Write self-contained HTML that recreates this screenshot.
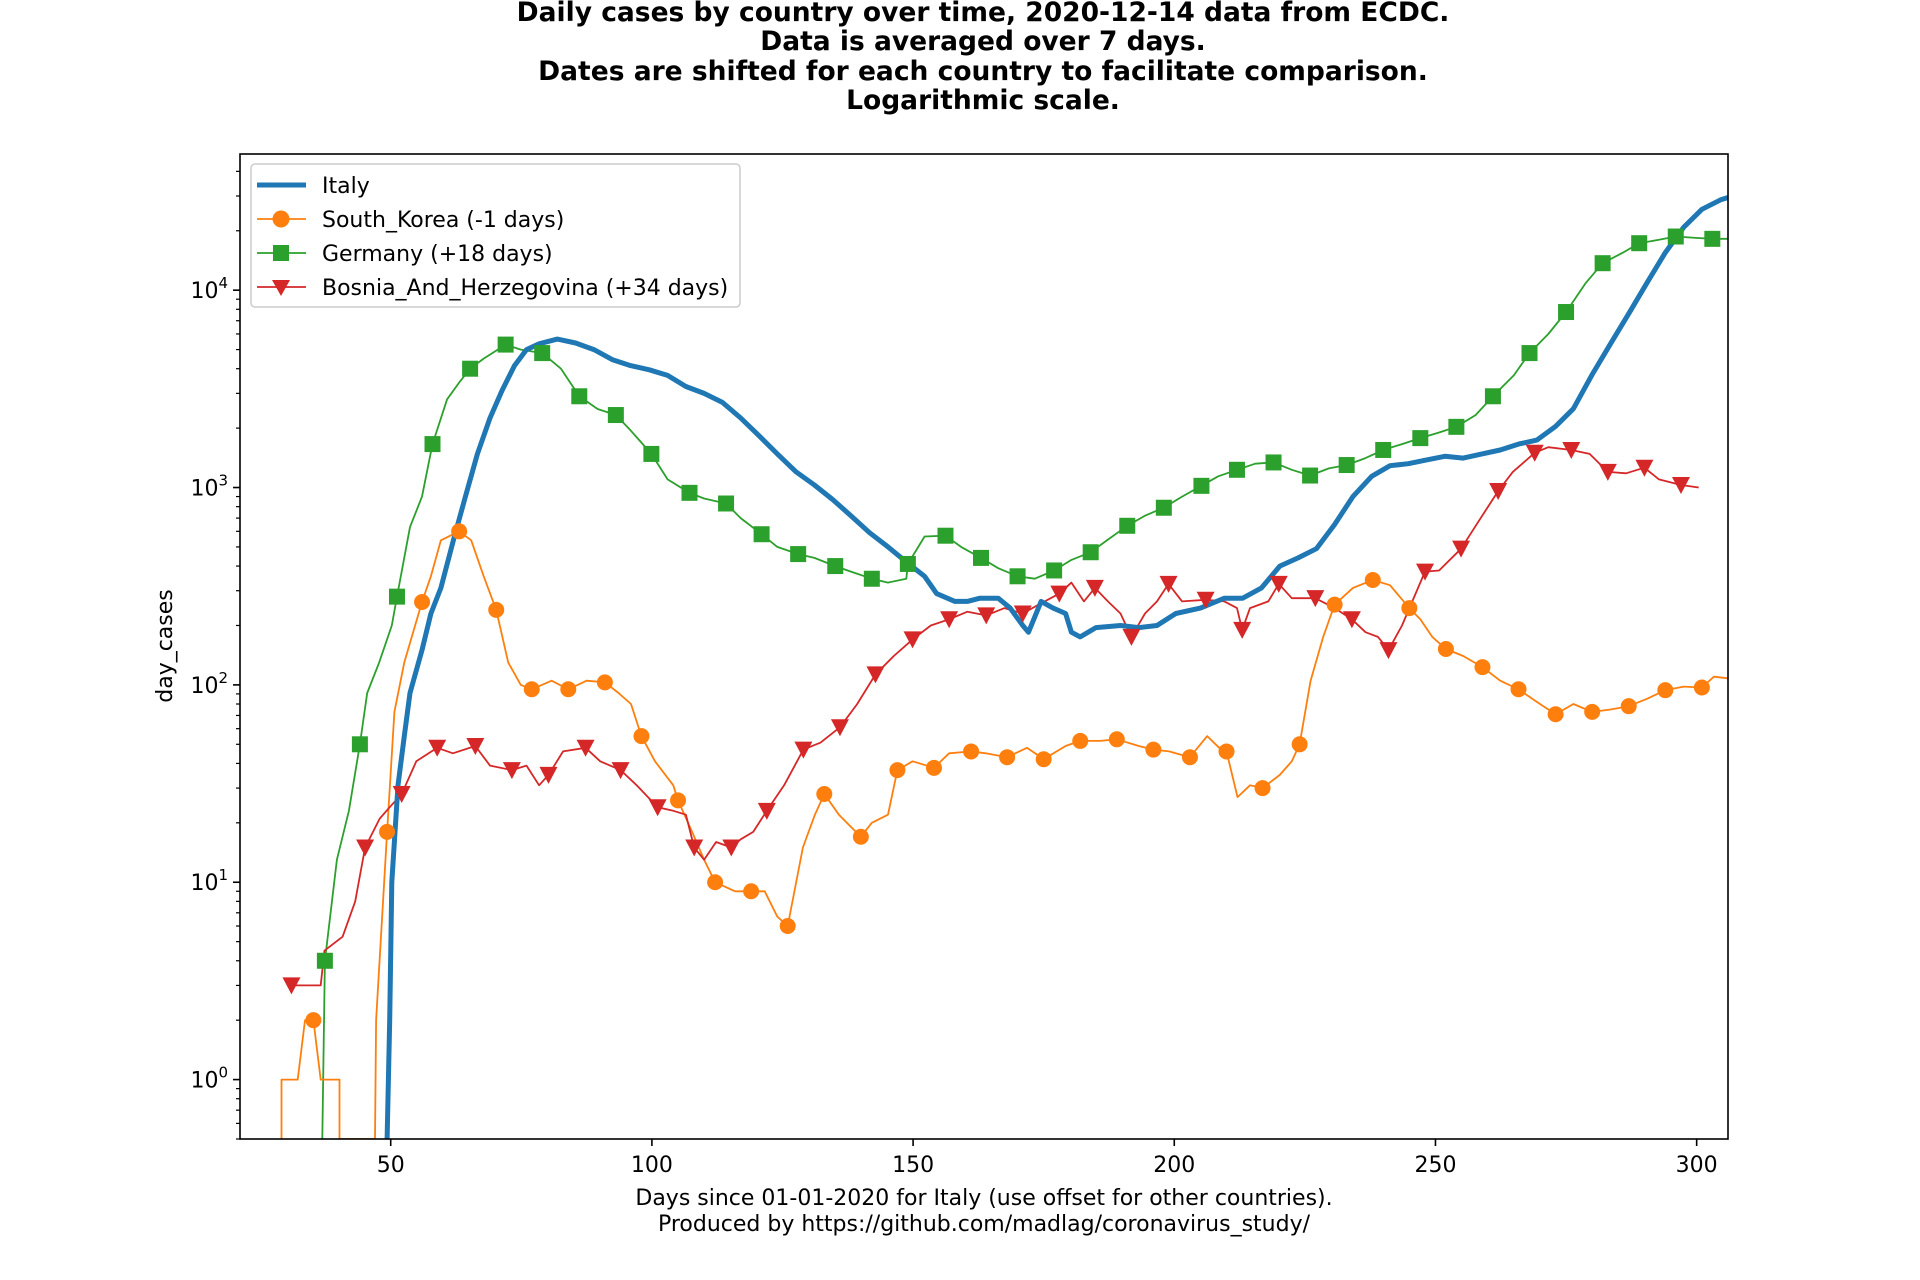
<!DOCTYPE html>
<html><head><meta charset="utf-8"><style>
html,body{margin:0;padding:0;background:#fff;}
svg{display:block;font-family:"DejaVu Sans","Liberation Sans",sans-serif;}
</style></head><body>
<svg id="chart" width="1920" height="1280" viewBox="0 0 1920 1280" xmlns="http://www.w3.org/2000/svg">
<g font-weight="bold" font-size="26.5" text-anchor="middle" fill="#000">
<text x="983" y="21">Daily cases by country over time, 2020-12-14 data from ECDC.</text>
<text x="983" y="50">Data is averaged over 7 days.</text>
<text x="983" y="80">Dates are shifted for each country to facilitate comparison.</text>
<text x="983" y="109">Logarithmic scale.</text>
</g>
<g id="plot"></g>
<g id="axes"></g>
<g font-size="22" text-anchor="middle">
<text x="984" y="1205">Days since 01-01-2020 for Italy (use offset for other countries).</text>
<text x="984" y="1231">Produced by https://github.com/madlag/coronavirus_study/</text>
</g>
<text font-size="22" text-anchor="middle" transform="translate(172,646) rotate(-90)">day_cases</text>
<g>
<rect x="251" y="164" width="489" height="143" rx="4" fill="#fff" fill-opacity="0.8" stroke="#ccc" stroke-width="1.5"/>
<g><line x1="257" y1="185" x2="306" y2="185" stroke="#1f77b4" stroke-width="5"/><text x="322" y="193" font-size="22">Italy</text></g>
<g><line x1="257" y1="219" x2="306" y2="219" stroke="#ff7f0e" stroke-width="1.8"/><circle cx="281" cy="219" r="8.5" fill="#ff7f0e"/><text x="322" y="227" font-size="22">South_Korea (-1 days)</text></g>
<g><line x1="257" y1="253" x2="306" y2="253" stroke="#2ca02c" stroke-width="1.8"/><rect x="273" y="245" width="16" height="16" fill="#2ca02c"/><text x="322" y="261" font-size="22">Germany (+18 days)</text></g>
<g><line x1="257" y1="287" x2="306" y2="287" stroke="#d62728" stroke-width="1.8"/><path d="M272,280 L290,280 L281,296 Z" fill="#d62728"/><text x="322" y="295" font-size="22">Bosnia_And_Herzegovina (+34 days)</text></g>
</g>
</svg>
<script>
const xTicks=[50,100,150,200,250,300];
const yTickExps=[0,1,2,3,4];
const italyDays=[49.3,49.8,50.2,51.4,52.6,53.7,56,57.7,59.6,62,64.3,66.6,69,71.3,73.7,76,78.4,81.9,85.4,88.9,92.4,95.9,99.5,103,106.5,110,113.5,117,120.6,124,127.6,131.1,134.6,138.1,141.7,145.2,148.7,152.2,154.5,158,160.4,162.8,166.3,168.6,171,172.1,174.5,176.8,179.2,180.3,182,185,189.7,193.2,196.7,200.3,205,209.6,213.1,216.7,220.2,223.7,227.2,230.7,234.2,237.8,241.3,244.8,248.3,251.8,255.3,258.9,262.4,265.9,269.4,273,276.4,280,283.5,287,290.5,294,297.5,301,304.6,306];
const italyVals=[0.5,2,10,31,55,91,150,230,310,540,900,1480,2250,3100,4150,5000,5350,5650,5400,5000,4450,4150,3950,3700,3250,3000,2700,2250,1820,1480,1200,1030,870,720,590,500,420,355,290,265,265,275,275,245,200,185,265,245,230,185,175,195,200,195,200,230,245,275,275,310,400,440,490,650,900,1140,1290,1320,1380,1440,1410,1480,1550,1660,1740,2040,2510,3740,5350,7600,10900,15500,20800,25700,28700,29500];
const koreaDays=[29.1,29.1,32.2,33.6,35.2,36.6,40.2,40.2,47,47.2,49.3,50.7,52.6,56,57.7,59.6,63.1,65.4,67.8,70.2,72.5,74.9,77,80.8,84,87.5,91,93.6,96,98,100.6,104.1,105,107.7,110,112.1,115.9,119,121.6,124,126,128.9,131.2,133,135.8,140,142.1,145.2,147,149.9,154,156.9,161.1,163.9,168,171.8,175,179.2,182,185.8,189,193.2,196,199,203,206.3,208.6,210,212.1,214.5,216.9,220.2,222.5,224,226.1,228.5,230.7,234.2,238,241.3,245,247.1,249.4,252,255.3,259,262.4,265.9,269.4,273,276.4,280,283.5,287,290.5,294,297.5,301,303.3,306];
const koreaVals=[0.5,1,1,2,2,1,1,0.5,0.5,2,18,73,130,263,355,540,600,540,355,240,130,100,95,105,95,105,103,91,80,55,41,31,26,18,13,10,9,9,9,6.7,6,15,22,28,22,17,20,22,37,41,38,45,46,45,43,48,42,49,52,52,53,49,47,46,43,55,48,46,27,31,30,35,41,50,105,175,255,310,340,320,245,215,175,152,140,123,105,95,82,71,80,73,75,78,85,94,98,97,110,108];
const koreaMarkDays=[35.2,49.3,56,63.1,70.2,77,84,91,98,105,112.1,119,126,133,140,147,154,161.1,168,175,182,189,196,203,210,216.9,224,230.7,238,245,252,259,265.9,273,280,287,294,301];
const koreaMarkVals=[2,18,263,600,240,95,95,103,55,26,10,9,6,28,17,37,38,46,43,42,52,53,47,43,46,30,50,255,340,245,152,123,95,71,73,78,94,97];
const germanyDays=[36.9,37.4,39.7,42,44.1,45.5,47.8,50.2,51.2,53.7,56,58,60.8,63.1,65.2,67.8,72,74.9,79,82.6,86.1,89.6,93.1,95.9,99.9,103,107.2,110,114.2,117,121,124,128,131.1,135.1,138.1,142.1,145.2,148.7,149,152.2,156.2,159.2,163,166.3,170,173.3,177,180.3,184,187.3,191,194.4,198,201.5,205.2,208.4,212,215.5,219,222.5,226,229.6,233,236.6,240,243.6,247.1,250.7,254,257.7,261,265,268,271.6,275,278.8,282,285.9,289,292.8,296,299.8,303,306];
const germanyVals=[0.5,4,13,23,50,91,130,200,280,630,900,1660,2800,3400,4000,4500,5300,5000,4800,4000,2900,2500,2330,1950,1480,1100,940,880,830,700,580,500,460,440,400,375,345,330,345,410,565,570,500,440,390,355,345,380,430,470,545,640,720,790,900,1020,1140,1230,1320,1340,1230,1150,1250,1300,1410,1550,1660,1780,1900,2030,2330,2900,3700,4800,6000,7750,10900,13700,15500,17300,18000,18700,18400,18200,18200];
const germanyMarkDays=[37.4,44.1,51.2,58,65.2,72,79,86.1,93.1,99.9,107.2,114.2,121,128,135.1,142.1,149,156.2,163,170,177,184,191,198,205.2,212,219,226,233,240,247.1,254,261,268,275,282,289,296,303];
const germanyMarkVals=[4,50,280,1660,4000,5300,4800,2900,2330,1480,940,830,580,460,400,345,410,570,440,355,380,470,640,790,1020,1230,1340,1150,1300,1550,1780,2030,2900,4800,7750,13700,17300,18700,18200];
const bosniaDays=[31,36.6,37.3,40.8,43.2,45.1,47.9,49.8,52.1,54.9,58.9,61.9,66.2,69,73.2,76,78.4,80.2,83,87.3,90.1,94,97.1,101.1,104.1,106.5,108.1,110,112.3,115.2,117,119.4,122,125.3,129,132.3,136,139.3,142.8,146.3,149.9,153.4,156.9,160.4,164,167.5,171,174,178,180.3,182.7,184.8,187.3,189.7,191.8,194.4,196.7,198.9,201.5,206,209.6,212,213,214.5,218,220,222.5,227,230.7,234,236.6,239,241,243.6,248,250.7,254.9,257.7,262,264.8,269,271.6,276,279.5,283,286.5,290,292.8,297,300.4];
const bosniaVals=[3,3,4.5,5.3,8,15,21,24,28,41,48,45,49,39,37,39,31,35,46,48,41,37,31,24,23,22,15,13,16,15,16.5,18,23,31,47,51,61,80,113,140,170,200,215,235,225,245,230,255,290,330,265,310,265,230,175,230,265,325,265,270,265,245,190,245,265,325,275,275,245,215,185,175,150,200,375,380,490,640,960,1200,1500,1600,1550,1480,1200,1180,1260,1100,1030,1000];
const bosniaMarkDays=[31,45.1,52.1,58.9,66.2,73.2,80.2,87.3,94,101.1,108.1,115.2,122,129,136,142.8,149.9,156.9,164,171,178,184.8,191.8,198.9,206,213,220,227,234,241,248,254.9,262,269,276,283,290,297];
const bosniaMarkVals=[3,15,28,48,49,37,35,48,37,24,15,15,23,47,61,113,170,215,225,230,290,310,175,325,270,190,325,275,215,150,375,490,960,1500,1550,1200,1260,1030];

const L=240,R=1728,T=154,B=1139;
const X0=21.15,X1=306,LY0=Math.log10(0.5),LY1=4.69;
const xs=d=>L+(d-X0)/(X1-X0)*(R-L);
const ys=v=>B-(Math.log10(v)-LY0)/(LY1-LY0)*(B-T);
const NS='http://www.w3.org/2000/svg';
function mk(tag,attrs,parent){const e=document.createElementNS(NS,tag);for(const k in attrs)e.setAttribute(k,attrs[k]);parent.appendChild(e);return e;}
const plot=document.getElementById('plot'),axes=document.getElementById('axes');
const defs=mk('defs',{},plot);
const cp=mk('clipPath',{id:'clip'},defs);mk('rect',{x:L,y:T,width:R-L,height:B-T},cp);
const g=mk('g',{'clip-path':'url(#clip)'},plot);


function line(days,vals,color,w,name){
  const p=mk('polyline',{points:days.map((d,i)=>xs(d).toFixed(1)+','+ys(vals[i]).toFixed(1)).join(' '),fill:'none',stroke:color,'stroke-width':w,'stroke-linejoin':'round'},g);
  
  
}
line(germanyDays,germanyVals,'#2ca02c',1.8,'germany-line');
line(koreaDays,koreaVals,'#ff7f0e',1.8,'south-korea-line');
line(bosniaDays,bosniaVals,'#d62728',1.8,'bosnia-line');
line(italyDays,italyVals,'#1f77b4',5,'italy-line');
koreaMarkDays.forEach((d,i)=>{const c=mk('circle',{cx:xs(d),cy:ys(koreaMarkVals[i]),r:8,fill:'#ff7f0e'},g);
  
  });
germanyMarkDays.forEach((d,i)=>{const x=xs(d),y=ys(germanyMarkVals[i]);const r=mk('rect',{x:x-8,y:y-8,width:16,height:16,fill:'#2ca02c'},g);
  
  });
bosniaMarkDays.forEach((d,i)=>{const x=xs(d),y=ys(bosniaMarkVals[i]);const p=mk('path',{d:`M${x-9},${y-8} L${x+9},${y-8} L${x},${y+9} Z`,fill:'#d62728'},g);
  
  });
const fr=mk('rect',{x:L,y:T,width:R-L,height:B-T,fill:'none',stroke:'#000','stroke-width':1.6},axes);


xTicks.forEach(t=>{const x=xs(t);mk('line',{x1:x,y1:B,x2:x,y2:B+7,stroke:'#000','stroke-width':1.6},axes);
  const tx=mk('text',{x:x,y:B+33,'font-size':22,'text-anchor':'middle'},axes);tx.textContent=t;
  
  });
yTickExps.forEach(e=>{const y=ys(Math.pow(10,e));mk('line',{x1:L-7,y1:y,x2:L,y2:y,stroke:'#000','stroke-width':1.6},axes);
  const tx=mk('text',{x:L-12,y:y+8,'font-size':22,'text-anchor':'end'},axes);
  
  
  const a=mk('tspan',{},tx);a.textContent='10';const b=mk('tspan',{dy:-10,'font-size':15},tx);b.textContent=String(e);});
for(let e=-1;e<=4;e++)for(let m=2;m<=9;m++){const v=m*Math.pow(10,e);const y=ys(v);if(y<T||y>B)continue;
  mk('line',{x1:L-4,y1:y,x2:L,y2:y,stroke:'#000','stroke-width':1.2},axes);}
</script>
</body></html>
